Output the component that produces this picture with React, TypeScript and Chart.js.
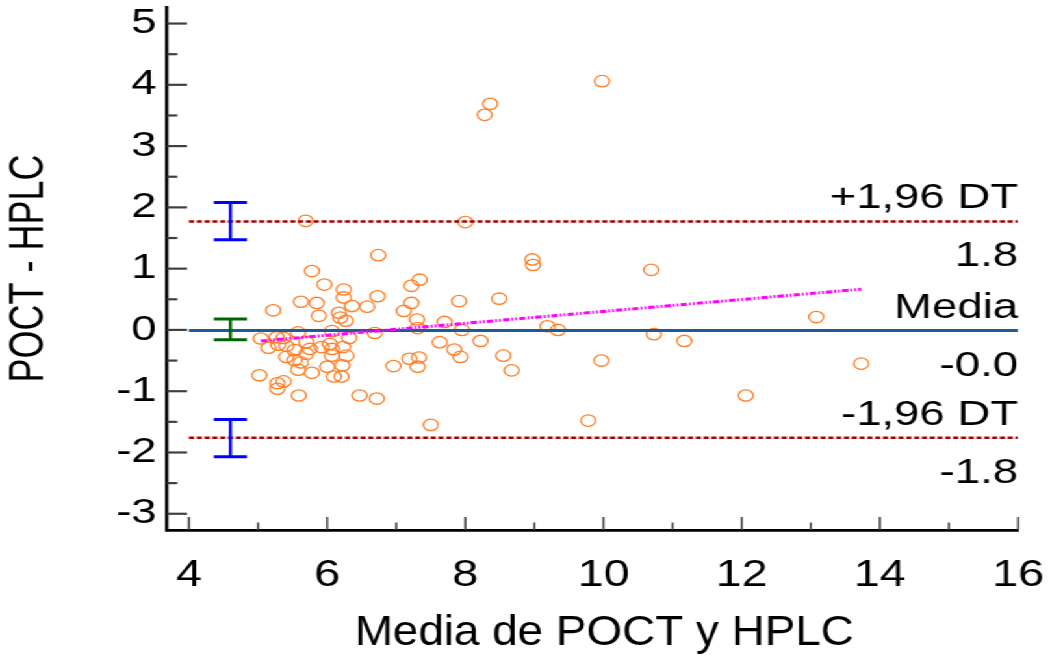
import React, { useEffect, useRef } from 'react';
import { Chart, registerables } from 'chart.js';

Chart.register(...registerables);

// ---- data ----
const MEAN_X = [
  6.74, 5.78, 5.96, 6.24, 6.24, 6.73, 5.62, 5.85, 6.36, 6.58,
  7.22, 7.34, 7.91, 5.22, 6.17, 6.19, 6.27, 5.88, 7.11, 7.22,
  7.30, 7.31, 7.70, 7.95, 5.58, 6.07, 6.69, 5.04, 5.15, 5.27,
  5.37, 5.29, 5.41, 5.53, 5.70, 5.75, 5.92, 6.04, 6.07, 6.32,
  6.23, 5.41, 5.53, 5.62, 6.07, 6.28, 5.58, 5.78, 6.00, 6.22,
  6.10, 6.21, 5.02, 5.28, 5.37, 5.28, 5.59, 6.47, 6.72, 6.96,
  7.19, 7.33, 7.31, 7.63, 7.84, 7.93, 8.22, 7.50, 8.55, 8.67,
  8.49, 8.97, 8.98, 9.19, 9.34, 9.98, 8.36, 8.28, 8.00, 5.69,
  10.69, 10.73, 11.17, 9.97, 12.06, 9.78, 13.08, 13.73, 5.70,
];
const DIFF_Y = [
  1.22, 0.96, 0.74, 0.66, 0.53, 0.55, 0.46, 0.44, 0.39, 0.38,
  0.72, 0.82, 0.47, 0.32, 0.28, 0.20, 0.15, 0.23, 0.31, 0.44,
  0.17, 0.03, 0.13, 0.00, -0.04, -0.02, -0.05, -0.14, -0.29, -0.12,
  -0.13, -0.24, -0.26, -0.33, -0.20, -0.31, -0.28, -0.23, -0.31, -0.13,
  -0.28, -0.44, -0.49, -0.53, -0.42, -0.42, -0.65, -0.70, -0.60, -0.58,
  -0.76, -0.76, -0.74, -0.87, -0.84, -0.96, -1.07, -1.07, -1.12, -0.59,
  -0.47, -0.45, -0.60, -0.20, -0.32, -0.44, -0.18, -1.55, -0.42, -0.66,
  0.51, 1.15, 1.06, 0.06, 0.00, 4.06, 3.69, 3.51, 1.76, 1.78,
  0.98, -0.07, -0.18, -0.50, -1.07, -1.48, 0.21, -0.55, -0.39,
];

const X_TICKS = [4, 6, 8, 10, 12, 14, 16];
const Y_TICKS = [-3, -2, -1, 0, 1, 2, 3, 4, 5];
const X_TICK_MARKS = [4, 5, 6, 7, 8, 9, 10, 11, 12, 13, 14, 15, 16];
const Y_TICK_MARKS = [-3, -2.5, -2, -1.5, -1, -0.5, 0, 0.5, 1, 1.5, 2, 2.5, 3, 3.5, 4, 4.5, 5];

const MEAN_DIFF = -0.01;
const UPPER_LOA = 1.77;
const LOWER_LOA = -1.76;
const LINE_X = [4, 16];
const REG_X = [5.04, 13.73];
const REG_Y = [-0.18, 0.665];

const CI_X = 4.6;
const CI_LOW = [1.47, -0.16, -2.07];
const CI_HIGH = [2.08, 0.18, -1.46];
const CI_COLORS = ['#0000ff', '#006400', '#0000ff'];

const LINE_VALUES = [UPPER_LOA, MEAN_DIFF, LOWER_LOA];
const LABELS_ABOVE = ['+1,96 DT', 'Media', '-1,96 DT'];
const LABELS_BELOW = ['1.8', '-0.0', '-1.8'];

const X_TITLE = 'Media de POCT y HPLC';
const Y_TITLE = 'POCT - HPLC';

// ---- layout ----
const OUT_W = 1050;
const CW = 808;
const CH = 656;
const SX = OUT_W / CW;
const FONT = "'Liberation Sans', Arial, sans-serif";

const decorPlugin = {
  id: 'decor',
  afterDatasetsDraw(chart: any) {
    const ctx = chart.ctx;
    const xs = chart.scales.x;
    const ys = chart.scales.y;
    const area = chart.chartArea;
    ctx.save();
    const cx = xs.getPixelForValue(CI_X);
    const half = 12.7;
    CI_LOW.forEach((lo: number, i: number) => {
      const y1 = ys.getPixelForValue(lo);
      const y2 = ys.getPixelForValue(CI_HIGH[i]);
      ctx.strokeStyle = CI_COLORS[i];
      ctx.lineWidth = 2.4;
      ctx.beginPath();
      ctx.moveTo(cx, y1);
      ctx.lineTo(cx, y2);
      ctx.stroke();
      ctx.lineWidth = 3;
      ctx.beginPath();
      ctx.moveTo(cx - half, y1);
      ctx.lineTo(cx + half, y1);
      ctx.moveTo(cx - half, y2);
      ctx.lineTo(cx + half, y2);
      ctx.stroke();
    });
    ctx.fillStyle = '#000';
    ctx.font = `35px ${FONT}`;
    ctx.textAlign = 'right';
    ctx.textBaseline = 'alphabetic';
    const rx = area.right;
    LINE_VALUES.forEach((v: number, i: number) => {
      const py = ys.getPixelForValue(v);
      ctx.fillText(LABELS_ABOVE[i], rx, py - 13);
      ctx.fillText(LABELS_BELOW[i], rx, py + 45);
    });
    ctx.restore();
  },
  afterDraw(chart: any) {
    const ctx = chart.ctx;
    const xs = chart.scales.x;
    const ys = chart.scales.y;
    const area = chart.chartArea;
    ctx.save();
    ctx.strokeStyle = '#404040';
    ctx.lineWidth = 1.6;
    X_TICK_MARKS.forEach((v: number) => {
      const len = v % 2 === 0 ? 13 : 7.5;
      const px = xs.getPixelForValue(v);
      ctx.beginPath();
      ctx.moveTo(px, area.bottom);
      ctx.lineTo(px, area.bottom - len);
      ctx.stroke();
    });
    ctx.lineWidth = 2.2;
    Y_TICK_MARKS.forEach((v: number) => {
      const len = Number.isInteger(v) ? 15.5 : 8;
      const py = ys.getPixelForValue(v);
      ctx.beginPath();
      ctx.moveTo(area.left, py);
      ctx.lineTo(area.left + len, py);
      ctx.stroke();
    });
    // x-axis title, in a condensed rendering like the original
    const titleCx = (area.left + area.right) / 2 + 9;
    ctx.translate(titleCx, 645);
    ctx.scale(0.82, 1);
    ctx.fillStyle = '#000';
    ctx.font = `43px ${FONT}`;
    ctx.textAlign = 'center';
    ctx.textBaseline = 'alphabetic';
    ctx.fillText(X_TITLE, 0, 0);
    ctx.restore();
  },
};

export default function App() {
  const ref = useRef<HTMLCanvasElement | null>(null);

  useEffect(() => {
    const canvas = ref.current;
    if (!canvas) return;
    const lineData = (v: number) => LINE_X.map((x) => ({ x, y: v }));
    const chart = new Chart(canvas, {
      type: 'scatter',
      data: {
        datasets: [
          {
            label: 'reg',
            data: REG_X.map((x, i) => ({ x, y: REG_Y[i] })),
            showLine: true,
            borderColor: '#ff00ff',
            borderWidth: 3,
            borderDash: [5, 1.5, 1.5, 1.5, 1.5, 1.5],
            pointRadius: 0,
            order: 0,
          },
          {
            label: 'upper',
            data: lineData(UPPER_LOA),
            showLine: true,
            borderColor: '#a00000',
            borderWidth: 2.6,
            borderDash: [4, 2],
            pointRadius: 0,
            order: 1,
          },
          {
            label: 'lower',
            data: lineData(LOWER_LOA),
            showLine: true,
            borderColor: '#a00000',
            borderWidth: 2.6,
            borderDash: [4, 2],
            pointRadius: 0,
            order: 1,
          },
          {
            label: 'mean',
            data: lineData(MEAN_DIFF),
            showLine: true,
            borderColor: '#1c5a9e',
            borderWidth: 3,
            pointRadius: 0,
            order: 1,
          },
          {
            label: 'points',
            data: MEAN_X.map((x, i) => ({ x, y: DIFF_Y[i] })),
            pointRadius: 5.7,
            pointBorderWidth: 1.3,
            borderColor: '#ff7f27',
            backgroundColor: 'rgba(0,0,0,0)',
            pointBackgroundColor: 'rgba(0,0,0,0)',
            order: 2,
          },
        ],
      },
      options: {
        responsive: false,
        animation: false,
        devicePixelRatio: 1,
        layout: { padding: { top: 5, right: 24.6, left: 0, bottom: 0 } },
        plugins: { legend: { display: false }, tooltip: { enabled: false } },
        scales: {
          x: {
            type: 'linear',
            min: 3.682,
            max: 16,
            afterBuildTicks: (s: any) => {
              s.ticks = X_TICKS.map((v) => ({ value: v }));
            },
            afterFit: (s: any) => {
              s.height = 126;
              s.paddingLeft = 0;
              s.paddingRight = 0;
            },
            grid: { display: false, drawTicks: false },
            border: { display: true, color: '#000', width: 2.8 },
            ticks: {
              font: { family: FONT, size: 36 },
              color: '#000',
              padding: 24,
              maxRotation: 0,
              autoSkip: false,
              callback: (v: any) => String(v),
            },
            title: { display: false, text: X_TITLE },
          },
          y: {
            type: 'linear',
            min: -3.265,
            max: 5.27,
            afterBuildTicks: (s: any) => {
              s.ticks = Y_TICKS.map((v) => ({ value: v }));
            },
            afterFit: (s: any) => {
              s.width = 128.5;
              s.paddingTop = 0;
              s.paddingBottom = 0;
            },
            grid: { display: false, drawTicks: false },
            border: { display: true, color: '#000', width: 2.5 },
            ticks: {
              font: { family: FONT, size: 35 },
              color: '#000',
              padding: 8,
              autoSkip: false,
              callback: (v: any) => String(v),
            },
            title: {
              display: true,
              text: Y_TITLE,
              font: { family: FONT, size: 36 },
              color: '#000',
              padding: { top: 1, bottom: 0 },
            },
          },
        },
      },
      plugins: [decorPlugin],
    } as any);
    return () => chart.destroy();
  }, []);

  return (
    <div
      style={{
        position: 'absolute',
        left: 0,
        top: 0,
        width: CW,
        height: CH,
        transform: `scaleX(${SX})`,
        transformOrigin: '0 0',
        background: '#fff',
      }}
    >
      <canvas ref={ref} width={CW} height={CH} style={{ display: 'block', width: CW, height: CH }} />
    </div>
  );
}
